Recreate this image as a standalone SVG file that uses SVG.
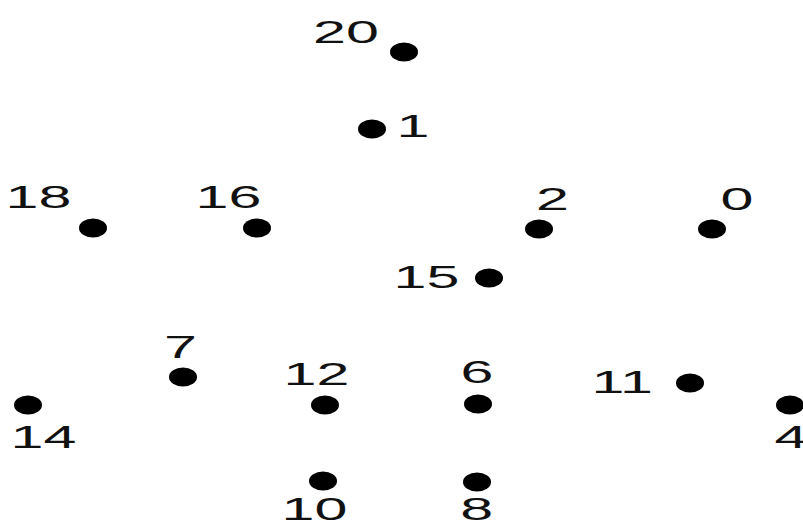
<svg xmlns="http://www.w3.org/2000/svg" width="803" height="524" viewBox="0 0 803 524">
<style>
.dot{fill:#000}
.lbl{font-family:"Liberation Sans",Arial,sans-serif;font-size:32px;fill:#111}
</style>
<rect width="803" height="524" fill="#fff"/>
<g id="connectors"/>
<g id="n20"><ellipse class="dot" cx="404" cy="52" rx="14" ry="9.5"/><text class="lbl" transform="translate(313,43) scale(1.85,1)">20</text></g>
<g id="n1"><ellipse class="dot" cx="372" cy="129" rx="14" ry="9.5"/><text class="lbl" transform="translate(396.5,137) scale(1.85,1)">1</text></g>
<g id="n18"><ellipse class="dot" cx="93" cy="228" rx="14" ry="9.5"/><text class="lbl" transform="translate(5.5,208) scale(1.85,1)">18</text></g>
<g id="n16"><ellipse class="dot" cx="257" cy="228" rx="14" ry="9.5"/><text class="lbl" transform="translate(195.5,208) scale(1.85,1)">16</text></g>
<g id="n2"><ellipse class="dot" cx="539" cy="229" rx="14" ry="9.5"/><text class="lbl" transform="translate(536,210) scale(1.85,1)">2</text></g>
<g id="n0"><ellipse class="dot" cx="712" cy="229" rx="14" ry="9.5"/><text class="lbl" transform="translate(720.5,210) scale(1.85,1)">0</text></g>
<g id="n15"><ellipse class="dot" cx="489" cy="278" rx="14" ry="9.5"/><text class="lbl" transform="translate(393.5,288) scale(1.85,1)">15</text></g>
<g id="n7"><ellipse class="dot" cx="183" cy="377" rx="14" ry="9.5"/><text class="lbl" transform="translate(164,358) scale(1.85,1)">7</text></g>
<g id="n12"><ellipse class="dot" cx="325" cy="405" rx="14" ry="9.5"/><text class="lbl" transform="translate(283.5,385) scale(1.85,1)">12</text></g>
<g id="n14"><ellipse class="dot" cx="28" cy="405" rx="14" ry="9.5"/><text class="lbl" transform="translate(10.5,448) scale(1.85,1)">14</text></g>
<g id="n10"><ellipse class="dot" cx="323" cy="481" rx="14" ry="9.5"/><text class="lbl" transform="translate(281.5,520) scale(1.85,1)">10</text></g>
<g id="n6"><ellipse class="dot" cx="478" cy="404" rx="14" ry="9.5"/><text class="lbl" transform="translate(460.6,383) scale(1.85,1)">6</text></g>
<g id="n11"><ellipse class="dot" cx="690" cy="383" rx="14" ry="9.5"/><text class="lbl" transform="translate(591.5,393) scale(1.85,1)">11</text></g>
<g id="n4"><ellipse class="dot" cx="790" cy="405" rx="14" ry="9.5"/><text class="lbl" transform="translate(774.4,448) scale(1.85,1)">4</text></g>
<g id="n8"><ellipse class="dot" cx="477" cy="482" rx="14" ry="9.5"/><text class="lbl" transform="translate(460.3,520) scale(1.85,1)">8</text></g>
</svg>
